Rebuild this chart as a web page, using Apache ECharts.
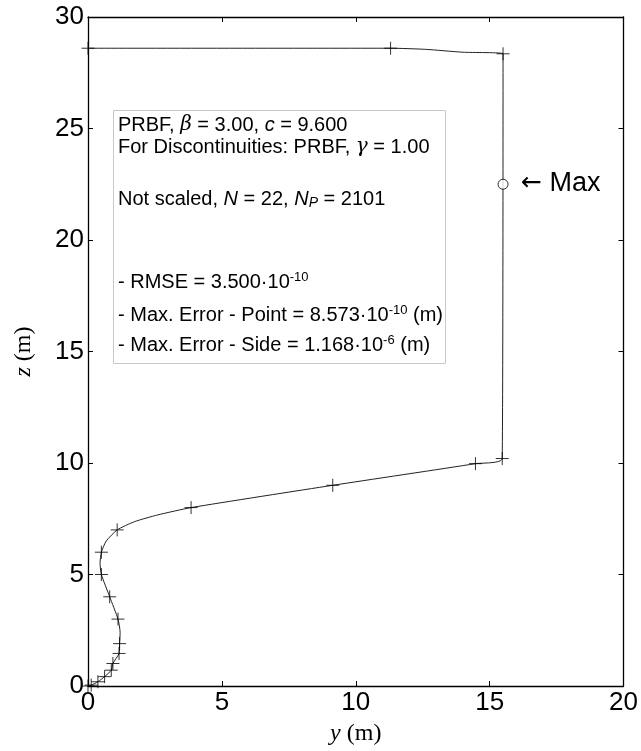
<!DOCTYPE html>
<html>
<head>
<meta charset="utf-8">
<script src="https://cdn.jsdelivr.net/npm/echarts@6/dist/echarts.min.js"></script>
<style>
  html, body { margin: 0; padding: 0; background: #fff; }
  #chart { width: 641px; height: 751px; }
</style>
</head>
<body>
<div id="chart"></div>
<script>
  // boundary curve: [y, z]
  var curveY = [0, 0.12, 0.37, 0.62, 0.87, 0.93, 1.16, 1.18, 1.2, 1.12, 0.81, 0.5, 0.45, 0.5, 0.68, 1.09, 1.74, 2.6, 3.85, 9.14, 14.47, 15.47, 15.5, 14.0, 12.6, 11.3, 0];
  var curveZ = [0, 0.04, 0.19, 0.42, 0.71, 1.01, 1.46, 1.9, 2.4, 3.0, 4.0, 5.0, 5.5, 6.0, 6.5, 7.0, 7.37, 7.67, 8.0, 9.0, 9.97, 10.2, 28.35, 28.42, 28.55, 28.6, 28.6];
  // nodes drawn with "+"
  var nodeY = [0, 0.12, 0.37, 0.62, 0.87, 0.93, 1.16, 1.18, 1.12, 0.81, 0.5, 0.5, 1.09, 3.85, 9.14, 14.47, 15.47, 15.5, 11.3, 0];
  var nodeZ = [0, 0.04, 0.19, 0.42, 0.71, 1.01, 1.46, 1.9, 3.0, 4.0, 5.0, 6.0, 7.0, 8.0, 9.0, 9.97, 10.2, 28.35, 28.6, 28.6];
  var maxPoint = [15.5, 22.5];
  var xTicks = [0, 5, 10, 15, 20];
  var yTicks = [0, 5, 10, 15, 20, 25, 30];

  var textLines = [
    'PRBF, {g|β} = 3.00, {i|c} = 9.600',
    'For Discontinuities: PRBF, {g|γ} = 1.00',
    'Not scaled, {i|N} = 22, {i|N}{sub|P} = 2101',
    '- RMSE = 3.500·10{sup|-10}',
    '- Max. Error - Point = 8.573·10{sup|-10} (m)',
    '- Max. Error - Side = 1.168·10{sup|-6} (m)'
  ];
  var lineTops = [114, 136, 186, 271, 304, 334];

  var zip = function (a, b) { return a.map(function (v, i) { return [v, b[i]]; }); };

  var chart = echarts.init(document.getElementById('chart'));
  var plus = 'path://M0,5 L10,5 M5,0 L5,10';
  var rich = {
    i: { fontStyle: 'italic', fontSize: 20, fontFamily: 'Liberation Sans', lineHeight: 22 },
    g: { fontStyle: 'italic', fontSize: 20, fontFamily: 'DejaVu Serif', lineHeight: 22 },
    sup: { fontSize: 13, fontFamily: 'Liberation Sans', verticalAlign: 'top', lineHeight: 22, padding: [0, 0, 10, 0] },
    sub: { fontSize: 14, fontStyle: 'italic', fontFamily: 'Liberation Sans', verticalAlign: 'bottom', lineHeight: 22, padding: [10, 0, 0, 0] }
  };

  var graphics = [{
    type: 'rect', left: 113, top: 110,
    shape: { width: 332, height: 253 },
    style: { fill: '#fff', stroke: '#c8c8c8', lineWidth: 1 },
    z: 10
  }];
  textLines.forEach(function (t, k) {
    graphics.push({
      type: 'text', left: 118, top: lineTops[k], z: 11,
      style: { text: t, rich: rich, fill: '#000', font: '20px "Liberation Sans"', lineHeight: 22 }
    });
  });
  graphics.push({
    type: 'text', left: 521, top: 170, z: 11,
    style: {
      text: '{a|←} Max', fill: '#000', font: '27px "Liberation Sans"',
      rich: { a: { fontFamily: 'DejaVu Sans', fontSize: 25 } }
    }
  });

  var tickAxis = {
    type: 'value', min: 0, splitLine: { show: false },
    axisLine: { onZero: false, lineStyle: { color: '#000', width: 1.3 } },
    axisTick: { inside: true, length: 5, lineStyle: { color: '#000' } }
  };

  chart.setOption({
    animation: false,
    grid: { left: 88, right: 16, top: 17, bottom: 61 },
    xAxis: [
      Object.assign({}, tickAxis, {
        max: 20, interval: 5, position: 'bottom',
        name: '{i|y} (m)', nameLocation: 'middle', nameGap: 36,
        nameTextStyle: { fontFamily: 'Liberation Serif', fontSize: 24, color: '#000',
          rich: { i: { fontFamily: 'Liberation Serif', fontStyle: 'italic', fontSize: 24 } } },
        axisLabel: { fontFamily: 'Liberation Sans', fontSize: 26, color: '#000', margin: 4,
          formatter: function (v) { return xTicks.indexOf(v) >= 0 ? String(v) : ''; } }
      }),
      Object.assign({}, tickAxis, { max: 20, interval: 5, position: 'top', axisLabel: { show: false } })
    ],
    yAxis: [
      Object.assign({}, tickAxis, {
        max: 30, interval: 5, position: 'left',
        name: '{i|z} (m)', nameLocation: 'middle', nameGap: 52, nameRotate: 90,
        nameTextStyle: { fontFamily: 'Liberation Serif', fontSize: 24, color: '#000',
          rich: { i: { fontFamily: 'Liberation Serif', fontStyle: 'italic', fontSize: 24 } } },
        axisLabel: { fontFamily: 'Liberation Sans', fontSize: 26, color: '#000', margin: 4,
          formatter: function (v) { return yTicks.indexOf(v) >= 0 ? String(v) : ''; } }
      }),
      Object.assign({}, tickAxis, { max: 30, interval: 5, position: 'right', axisLabel: { show: false } })
    ],
    series: [
      {
        name: 'boundary', type: 'line', data: zip(curveY, curveZ),
        smooth: 0.2, showSymbol: false,
        lineStyle: { color: '#222', width: 1 }, z: 3
      },
      {
        name: 'nodes', type: 'scatter', data: zip(nodeY, nodeZ),
        symbol: plus, symbolSize: 13,
        itemStyle: { color: 'none', borderColor: '#000', borderWidth: 1 }, z: 4
      },
      {
        name: 'max', type: 'scatter', data: [maxPoint],
        symbol: 'circle', symbolSize: 10,
        itemStyle: { color: '#fff', borderColor: '#000', borderWidth: 1 }, z: 4
      }
    ],
    graphic: graphics
  });
</script>
</body>
</html>
